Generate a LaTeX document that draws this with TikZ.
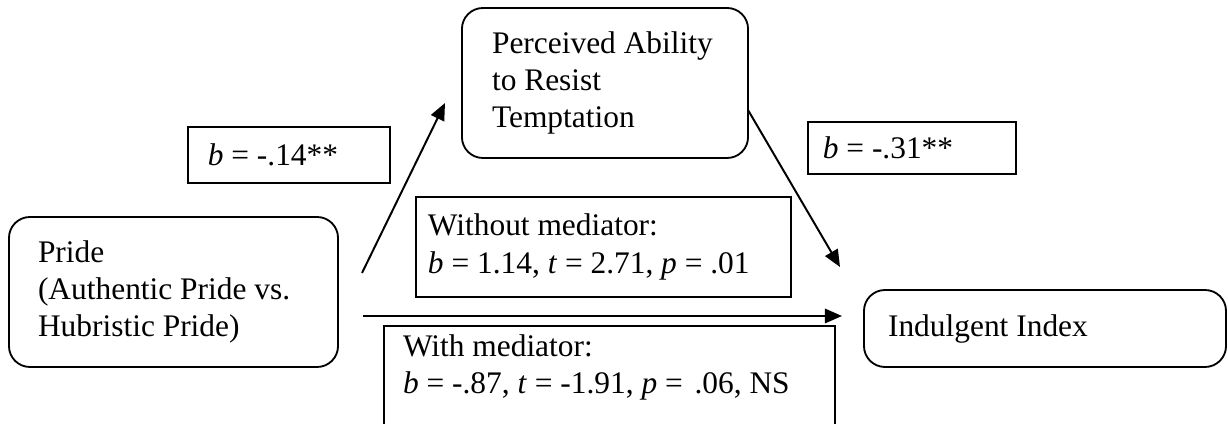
\documentclass[tikz,border=0pt]{standalone}
\usepackage{fontspec}
\setmainfont{Liberation Serif}
\usetikzlibrary{arrows.meta}

\begin{document}
\begin{tikzpicture}[x=0.382pt, y=-0.382pt,
  font=\fontsize{12pt}{14.2pt}\selectfont,
  varbox/.style={draw, line width=0.7pt, rounded corners=8pt, align=flush left, inner ysep=0pt},
  statbox/.style={draw, line width=0.7pt, align=flush left, inner ysep=0pt},
  link/.style={line width=0.75pt, -{Triangle[length=6.5pt, width=5.5pt]}}]
  \useasboundingbox (0,0) rectangle (1228,424);

  % Variables
  \node[varbox, minimum width=125.7pt, minimum height=57.3pt, text width=103.5pt, inner xsep=11.1pt] (pride) at (173.5,292) {Pride\\(Authentic Pride vs.\\Hubristic Pride)};
  \node[varbox, minimum width=109.3pt, minimum height=57.3pt, text width=86.3pt, inner xsep=11.5pt] (ability) at (605,83) {Perceived Ability\\to Resist\\Temptation};
  \node[varbox, minimum width=138.3pt, minimum height=29.4pt, text width=119.9pt, inner xsep=9.2pt] (indulge) at (1045,328.5) {Indulgent Index};

  % Coefficients
  \node[statbox, minimum width=77.2pt, minimum height=21.4pt, text width=62pt, inner xsep=7.6pt] (apath) at (289,155) {\textit{b} = -.14**};
  \node[statbox, minimum width=79.5pt, minimum height=19.9pt, text width=68.1pt, inner xsep=5.7pt] (bpath) at (912,148) {\textit{b} = -.31**};
  \node[statbox, minimum width=143.3pt, minimum height=38.2pt, text width=134.1pt, inner xsep=4.6pt] (nomed) at (603.5,247) {Without mediator:\\\textit{b} = 1.14, \textit{t} = 2.71, \textit{p} = .01};
  \node[statbox, anchor=north west, text width=157.8pt, inner xsep=7.3pt, inner ysep=3.3pt] (withmed) at (383,325) {With mediator:\\\textit{b} = -.87, \textit{t} = -1.91, \textit{p} =\hspace{1.5pt} .06, NS\rule[-20pt]{0pt}{0pt}};

  % Arrows
  \coordinate (astart) at (362,273);
  \coordinate (aend) at (445,103);
  \coordinate (bstart) at (748,110);
  \coordinate (bend) at (840,267);
  \coordinate (cstart) at (363,316);
  \coordinate (cend) at (842,316);
  \draw[link] (astart) -- (aend);
  \draw[link] (bstart) -- (bend);
  \draw[link] (cstart) -- (cend);
\end{tikzpicture}
\end{document}
